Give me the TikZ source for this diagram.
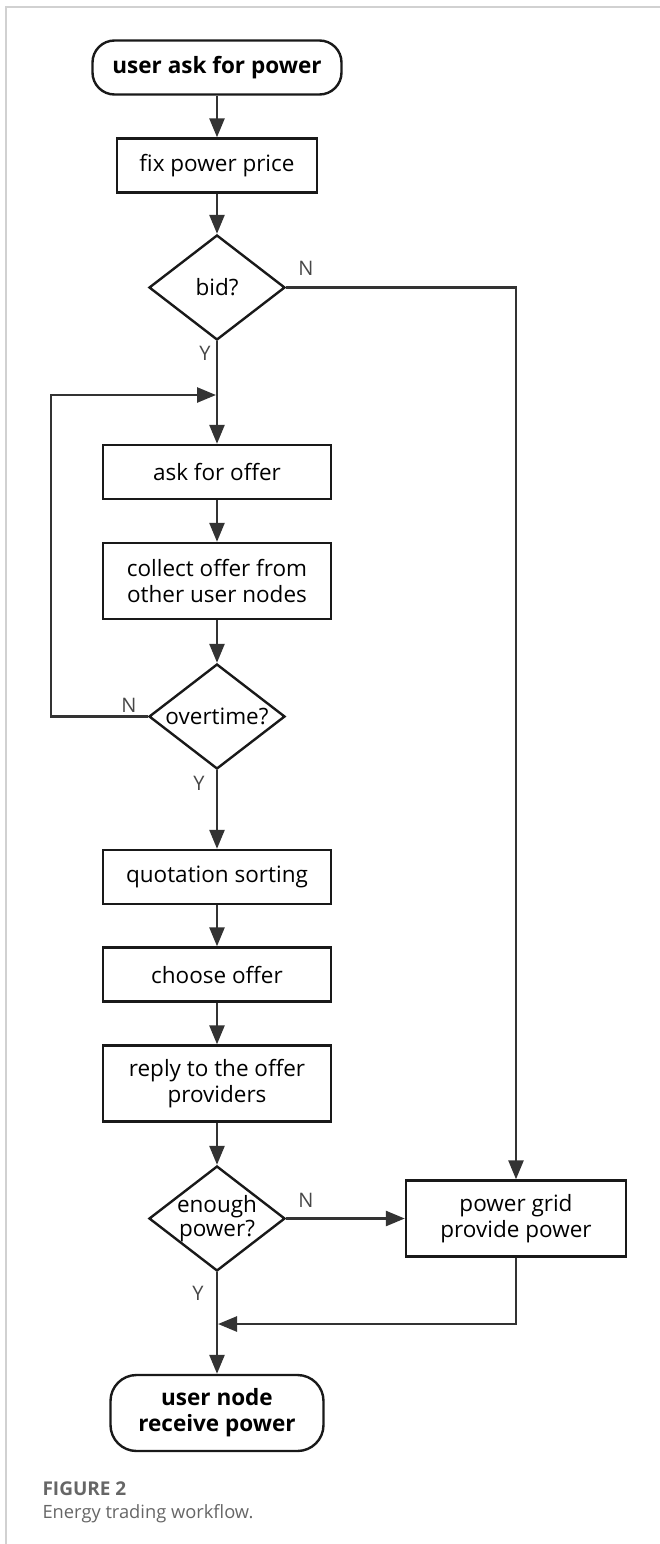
\documentclass[tikz,border=0pt]{standalone}
\usepackage{fontspec}
\setmainfont{Open Sans}
\usetikzlibrary{shapes.geometric,arrows.meta}
\begin{document}
\begin{tikzpicture}[x=1pt,y=-1pt,
  every node/.style={font=\fontsize{22.5}{26}\selectfont, text=black},
  box/.style={draw=black!90, line width=2.4pt, rectangle, align=center, inner sep=0pt},
  term/.style={box, rounded corners=22pt, font=\fontsize{22.5}{26}\selectfont\bfseries},
  dec/.style={draw=black!90, line width=2.4pt, diamond, aspect=1.31, minimum width=136pt, minimum height=105pt, inner sep=0pt, align=center, font=\fontsize{22.5}{24}\selectfont},
  conn/.style={draw=black!80, line width=2.6pt},
  arr/.style={conn, -{Triangle[length=19pt,width=15pt]}},
  lbl/.style={font=\fontsize{20}{22}\selectfont, text=black!72},
  border/.style={draw=black!18, line width=1.5pt}]
\useasboundingbox (0,0) rectangle (660,1544);
\draw[border] (6,1544) -- (6,7) -- (660,7);

\node[term, minimum width=249pt, minimum height=54pt] (start) at (217,67.5) {user ask for power};
\node[box, minimum width=200pt, minimum height=54pt] (fix) at (217,165.5) {fix power price};
\node[dec] (bid) at (217,287.5) {bid?};
\node[box, minimum width=228pt, minimum height=54pt] (ask) at (217,472) {ask for offer};
\node[box, minimum width=228pt, minimum height=76pt] (collect) at (217,581) {collect offer from\\other user nodes};
\node[dec] (over) at (217,716.5) {overtime?};
\node[box, minimum width=228pt, minimum height=54pt] (sort) at (217,877) {quotation sorting};
\node[box, minimum width=228pt, minimum height=54pt] (choose) at (217,974.5) {choose offer};
\node[box, minimum width=228pt, minimum height=76pt] (reply) at (217,1083.5) {reply to the offer\\providers};
\node[dec, inner sep=-6pt] (enough) at (217,1218.5) {enough\\power?};
\node[box, minimum width=220pt, minimum height=76pt] (grid) at (516,1218.5) {power grid\\provide power};
\node[term, rounded corners=26pt, minimum width=213pt, minimum height=76pt] (end) at (217,1413) {user node\\receive power};

\coordinate (j1) at (216,395);
\coordinate (lp) at (51,395);
\coordinate (j2) at (218,1324);

\draw[arr] (start) -- (fix);
\draw[arr] (fix) -- (bid);
\draw[arr] (bid) -- (ask);
\draw[arr] (over.west) -| (lp) -- (j1);
\draw[arr] (ask) -- (collect);
\draw[arr] (collect) -- (over);
\draw[arr] (over) -- (sort);
\draw[arr] (sort) -- (choose);
\draw[arr] (choose) -- (reply);
\draw[arr] (reply) -- (enough);
\draw[arr] (enough) -- (grid);
\draw[arr] (enough) -- (end);
\draw[arr] (bid.east) -| (grid.north);
\draw[arr] (grid.south) |- (j2);

\node[lbl] (n1) at (306,268) {N};
\node[lbl] (y1) at (205,353) {Y};
\node[lbl] (n2) at (129,705) {N};
\node[lbl] (y2) at (199,783) {Y};
\node[lbl] (n3) at (306,1200) {N};
\node[lbl] (y3) at (198,1293) {Y};

\node[anchor=base west, font=\fontsize{19}{21}\selectfont\bfseries, text=black!60] (figno) at (39,1495) {FIGURE 2};
\node[anchor=base west, font=\fontsize{18.3}{21}\selectfont, text=black!60] (cap) at (39,1518) {Energy trading workflow.};
\end{tikzpicture}
\end{document}
